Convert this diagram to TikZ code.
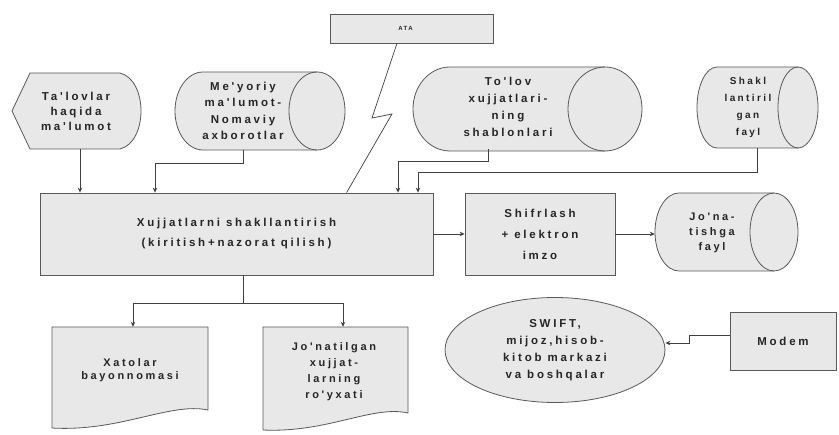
\documentclass[tikz,border=0pt]{standalone}
\usepackage{fontspec}
\setmainfont{Liberation Sans}
\newfontfamily\lblfont[LetterSpace=24,UprightFont={* Bold}]{Liberation Sans}
\usetikzlibrary{shapes.geometric,arrows.meta}
\newcommand{\hcylinder}[5]{%
  \filldraw[shapestyle] ({#1+#5},{-#3}) -- ({#2-#5},{-#3})
    arc[start angle=90,end angle=-90,x radius=#5,y radius={(#4-#3)/2}]
    -- ({#1+#5},{-#4})
    arc[start angle=270,end angle=90,x radius=#5,y radius={(#4-#3)/2}]
    -- cycle;
  \draw[shapeline] ({#2-#5},{-#3}) arc[start angle=90,end angle=270,x radius=#5,y radius={(#4-#3)/2}];
}
\begin{document}
\begin{tikzpicture}[x=1pt,y=1pt,
  shapestyle/.style={fill=black!9, draw=black!65, line width=0.8pt},
  shapeline/.style={draw=black!65, line width=0.8pt},
  lbl/.style={font=\lblfont\fontsize{11.5}{16}\selectfont, text=black!85, align=center, inner sep=0pt},
  boxnode/.style={shapestyle, rectangle, inner sep=0pt, lbl},
  holder/.style={rectangle, draw=none, inner sep=0pt, lbl},
  conn/.style={draw=black!75, line width=0.7pt, -{Stealth[length=5pt,width=4.5pt]}},
  plain/.style={draw=black!75, line width=0.7pt}]
\useasboundingbox (0,0) rectangle (839,-435);
\fill[white] (0,0) rectangle (839,-435);

% ---- shapes drawn directly ----
\filldraw[shapestyle] (12,-111) -- (30,-73) -- (120,-73)
  .. controls (148,-80) and (148,-142) .. (120,-149) -- (30,-149) -- cycle;
\hcylinder{175}{345}{72}{150}{28}
\hcylinder{413}{642}{67}{151}{37}
\hcylinder{697}{818}{67}{148}{20}
\hcylinder{655}{798}{193}{271}{24}
\filldraw[shapestyle] (52,-327) -- (208,-327) -- (208,-410)
  .. controls (170,-402) and (120,-432) .. (52,-428) -- cycle;
\filldraw[shapestyle] (263,-327) -- (408,-327) -- (408,-413)
  .. controls (372,-405) and (328,-433) .. (263,-430) -- cycle;

% ---- nodes ----
\node[boxnode, minimum width=163, minimum height=29, font=\lblfont\fontsize{6}{7}\selectfont] (ata) at (411.5,-28.5) {\hspace*{-12pt}ATA};
\node[holder, minimum width=130, minimum height=76, font=\lblfont\fontsize{11.5}{15}\selectfont] (n1) at (76,-111) {Ta'lovlar\\haqida\\ma'lumot};
\node[holder, minimum width=120, minimum height=78, font=\lblfont\fontsize{11.5}{16.5}\selectfont] (n2) at (243,-111) {Me'yoriy\\ma'lumot-\\Nomaviy\\axborotlar};
\node[holder, minimum width=150, minimum height=84, font=\lblfont\fontsize{11.5}{17}\selectfont] (n3) at (508,-107) {To'lov\\xujjatlari-\\ning\\shablonlari};
\node[holder, minimum width=90, minimum height=81, font=\lblfont\fontsize{10}{17}\selectfont] (n4) at (748,-107.5) {Shakl\\lantiril\\gan\\fayl};
\node[boxnode, minimum width=393, minimum height=82, font=\lblfont\fontsize{11.5}{20}\selectfont] (main) at (236.5,-234) {Xujjatlarni shakllantirish\\(kiritish+nazorat qilish)};
\node[boxnode, minimum width=150, minimum height=82, font=\lblfont\fontsize{11.5}{21}\selectfont] (shif) at (540,-234) {Shifrlash\\+ elektron\\imzo};
\node[holder, minimum width=114, minimum height=78, font=\lblfont\fontsize{11}{15}\selectfont] (n5) at (712,-233) {Jo'na-\\tishga\\fayl};
\node[ellipse, shapestyle, lbl, minimum width=220, minimum height=105, font=\lblfont\fontsize{11.5}{17}\selectfont] (ell) at (555,-350) {SWIFT,\\mijoz,hisob-\\kitob markazi\\va boshqalar};
\node[boxnode, minimum width=106, minimum height=58] (modem) at (783,-341) {Modem};
\node[holder, minimum width=156, minimum height=86, font=\lblfont\fontsize{11}{13}\selectfont] (d1) at (130,-370) {Xatolar\\bayonnomasi};
\node[holder, minimum width=145, minimum height=90, font=\lblfont\fontsize{11}{16}\selectfont] (d2) at (334,-372) {Jo'natilgan\\xujjat-\\larning\\ro'yxati};

% ---- connectors ----
\draw[conn] ([xshift=4pt]n1.south) -- ([xshift=4pt]n1.south |- main.north);
\draw[conn] (n2.south) -- ++(0,-13) -| ([xshift=-81.5pt]main.north);
\draw[conn] ([xshift=-20pt]n3.south) -- ++(0,-12) -| ([xshift=161.5pt]main.north);
\draw[conn] ([xshift=9pt]n4.south) -- ++(0,-24) -| ([xshift=181.5pt]main.north);
\draw[plain] ([xshift=-14.5pt]ata.south) -- (372,-118) -- (392,-114) -- ([xshift=307pt]main.north west);
\draw[conn] (main.east) -- (shif.west);
\draw[conn] (shif.east) -- (shif.east -| n5.west);
\draw[conn] ([yshift=6pt]modem.west) -- ++(-40,0) |- ([yshift=7pt]ell.east);
\draw[conn] ([xshift=6.5pt]main.south) -- ++(0,-28) -| ([xshift=3pt]d1.north);
\draw[conn] ([xshift=6.5pt]main.south) -- ++(0,-28) -| ([xshift=9pt]d2.north);
\end{tikzpicture}
\end{document}
